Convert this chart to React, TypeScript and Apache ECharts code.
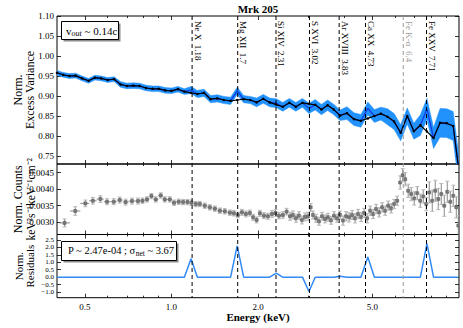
import React, { useEffect, useRef } from 'react';
import * as echarts from 'echarts';

// ---- Top panel: normalised excess variance per energy bin (keV) ----
const binE = [0.400, 0.420, 0.442, 0.464, 0.489, 0.515, 0.542, 0.570, 0.600, 0.632, 0.665, 0.700, 0.737, 0.775, 0.816, 0.859, 0.904, 0.952, 1.001, 1.054, 1.109, 1.170, 1.231, 1.298, 1.368, 1.444, 1.522, 1.606, 1.693, 1.783, 1.879, 1.979, 2.086, 2.197, 2.315, 2.438, 2.571, 2.708, 2.855, 3.008, 3.162, 3.324, 3.493, 3.671, 3.858, 4.078, 4.314, 4.559, 4.819, 5.080, 5.352, 5.643, 5.949, 6.267, 6.608, 6.967, 7.339, 7.737, 8.157, 8.593, 9.060, 9.546, 9.944];
const excessVar = [0.958, 0.953, 0.950, 0.951, 0.944, 0.938, 0.946, 0.944, 0.940, 0.942, 0.929, 0.925, 0.926, 0.925, 0.920, 0.918, 0.918, 0.914, 0.913, 0.917, 0.911, 0.915, 0.905, 0.908, 0.892, 0.894, 0.890, 0.888, 0.913, 0.892, 0.890, 0.884, 0.893, 0.884, 0.882, 0.873, 0.883, 0.873, 0.883, 0.869, 0.878, 0.866, 0.877, 0.866, 0.852, 0.857, 0.842, 0.838, 0.869, 0.850, 0.856, 0.848, 0.836, 0.808, 0.850, 0.812, 0.827, 0.868, 0.795, 0.833, 0.832, 0.825, 0.725];
const continuum = [0.958, 0.953, 0.950, 0.951, 0.944, 0.938, 0.946, 0.944, 0.940, 0.942, 0.929, 0.925, 0.926, 0.925, 0.920, 0.918, 0.918, 0.914, 0.913, 0.917, 0.911, 0.908, 0.905, 0.908, 0.892, 0.894, 0.890, 0.888, 0.890, 0.892, 0.890, 0.884, 0.893, 0.884, 0.8785, 0.873, 0.883, 0.873, 0.883, 0.8805, 0.878, 0.866, 0.877, 0.866, 0.851, 0.857, 0.842, 0.838, 0.844, 0.850, 0.856, 0.848, 0.836, 0.808, 0.850, 0.812, 0.827, 0.811, 0.795, 0.833, 0.832, 0.825, 0.725];
const evErr = [0.006, 0.006, 0.006, 0.006, 0.006, 0.006, 0.006, 0.006, 0.006, 0.006, 0.007, 0.007, 0.007, 0.007, 0.007, 0.007, 0.007, 0.007, 0.007, 0.007, 0.007, 0.009, 0.009, 0.009, 0.009, 0.009, 0.009, 0.009, 0.009, 0.009, 0.009, 0.011, 0.011, 0.011, 0.011, 0.011, 0.011, 0.011, 0.011, 0.013, 0.013, 0.013, 0.013, 0.013, 0.013, 0.016, 0.016, 0.016, 0.016, 0.016, 0.016, 0.020, 0.020, 0.020, 0.020, 0.020, 0.026, 0.026, 0.026, 0.036, 0.036, 0.036, 0.036];

// ---- Bottom panel: normalised residuals at the same bins ----
const residual = [0, 0, 0, 0, 0, 0, 0, 0, 0, 0, 0, 0, 0, 0, 0, 0, 0, 0, 0, 0, 0, 1.24, 0, 0, 0, 0, 0, 0, 2.1, 0, 0, 0, 0, 0, 0.27, 0, 0, 0, 0, -0.96, 0, 0, 0, 0, 0.07, 0, 0, 0, 1.35, 0, 0, 0, 0, 0, 0, 0, 0, 2.25, 0, 0, 0, 0, 0];

// ---- Middle panel: normalised counts spectrum ----
const cntE = [0.425, 0.463, 0.502, 0.533, 0.566, 0.597, 0.630, 0.661, 0.693, 0.729, 0.765, 0.793, 0.822, 0.852, 0.882, 0.918, 0.948, 0.987, 1.021, 1.060, 1.098, 1.137, 1.174,
  1.215, 1.255, 1.306, 1.360, 1.416, 1.474, 1.533, 1.597, 1.649, 1.702, 1.758, 1.815, 1.874, 1.924, 1.978, 2.030, 2.097, 2.165, 2.236, 2.300, 2.365, 2.442, 2.515,
  2.584, 2.647, 2.711, 2.777, 2.844, 2.914, 2.985, 3.050, 3.107, 3.183, 3.261, 3.340, 3.421, 3.504, 3.590, 3.677, 3.767, 3.858, 3.953, 4.049, 4.148, 4.249, 4.352, 4.458, 4.567, 4.677, 4.792, 4.909, 5.028, 5.150, 5.276, 5.405, 5.536, 5.672, 5.809, 5.951, 6.095, 6.244, 6.371, 6.500, 6.658, 6.821, 6.987, 7.157, 7.332, 7.510, 7.693, 7.880, 8.072, 8.268, 8.470, 8.677, 8.888, 9.104, 9.327, 9.552, 9.786, 9.945];
const cntV = [0.00298, 0.00334, 0.00357, 0.00365, 0.00370, 0.00362, 0.00362, 0.00367, 0.00361, 0.00364, 0.00364, 0.00365, 0.00369, 0.00379, 0.00369, 0.00381, 0.00369, 0.00369, 0.00359, 0.00362, 0.00361, 0.00361, 0.00359,
  0.00355, 0.00355, 0.00350, 0.00345, 0.00341, 0.00335, 0.00333, 0.00329, 0.00327, 0.00322, 0.00330, 0.00325, 0.00328, 0.00315, 0.00307, 0.00327, 0.00320, 0.00318, 0.00325, 0.00328, 0.00320, 0.00322, 0.00332,
  0.00318, 0.00322, 0.00312, 0.00320, 0.00307, 0.00316, 0.00318, 0.00345, 0.00322, 0.00312,
  0.00303, 0.00318, 0.00310, 0.00315, 0.00306, 0.00320, 0.00312, 0.00322, 0.00305, 0.00318,
  0.00315, 0.00322, 0.00312, 0.00325, 0.00316, 0.00328, 0.00312, 0.00335, 0.00325, 0.00340,
  0.00330, 0.00345, 0.00335, 0.00350, 0.00342, 0.00355, 0.00365, 0.00420, 0.00442, 0.00430,
  0.00395, 0.00385, 0.00372, 0.00388, 0.00365, 0.00378, 0.00355, 0.00390, 0.00365, 0.00395,
  0.00370, 0.00385, 0.00350, 0.00392, 0.00362, 0.00380, 0.00345, 0.00290];
const cntErr = [0.00012, 0.00013, 0.00010, 0.00010, 0.00010, 0.00009, 0.00009, 0.00009, 0.00009, 0.00009, 0.00009, 0.00008, 0.00008, 0.00008, 0.00008, 0.00008, 0.00008, 0.00008, 0.00008, 0.00008, 0.00008, 0.00008, 0.00008,
  0.00008, 0.00008, 0.00008, 0.00008, 0.00008, 0.00008, 0.00008, 0.00008, 0.00008, 0.00008, 0.00009, 0.00009, 0.00009, 0.00009, 0.00009, 0.00009, 0.00009, 0.00009, 0.0001, 0.0001, 0.0001, 0.0001, 0.0001,
  0.00012, 0.00012, 0.00012, 0.00012, 0.00012, 0.00012, 0.00012, 0.00012, 0.00012, 0.00012, 0.00012, 0.00012, 0.00012, 0.00012, 0.00012, 0.00012, 0.00012, 0.00012,
  0.00014, 0.00014, 0.00014, 0.00014, 0.00014, 0.00014, 0.00014, 0.00014, 0.00014, 0.00014, 0.00014, 0.00014, 0.00014, 0.00014, 0.00014, 0.00014, 0.00014, 0.00014, 0.00014,
  0.0002, 0.0002, 0.0002, 0.0002, 0.0002, 0.0002, 0.0002, 0.0002, 0.0002, 0.0002,
  0.00032, 0.00032, 0.00032, 0.00032, 0.00032, 0.00032, 0.00032, 0.00032, 0.00032, 0.00032, 0.0003];

// ---- Line identifications ----
const lineE = [1.18, 1.7, 2.31, 3.02, 3.83, 4.73, 6.4, 7.71];
const lineLabels = ['Ne X  1.18', 'Mg XII  1.7', 'Si XIV  2.31', 'S XVI  3.02', 'Ar XVIII  3.83', 'Ca XX  4.73', 'Fe K-\u03b1  6.4', 'Fe XXV  7.71'];

// ---- Ticks ----
const xMajor = [0.5, 1.0, 2.0, 5.0];
const xMinor = [0.6, 0.7, 0.8, 0.9, 3, 4, 6, 7, 8, 9];
const evTicks = [0.75, 0.80, 0.85, 0.90, 0.95, 1.00, 1.05, 1.10];
const cntTicks = [0.0030, 0.0035, 0.0040, 0.0045];
const resTicks = [-1.0, -0.5, 0.0, 0.5, 1.0, 1.5, 2.0, 2.5];

const X_MIN = 0.4;
const X_MAX = 10.0;
const EV_RANGE = [0.73, 1.10];
const CNT_RANGE = [0.00263, 0.00476];
const RES_RANGE = [-1.38, 2.87];

const SERIF = '"Liberation Serif", "Times New Roman", Times, serif';
const LEFT = 57;
const RIGHT = 4;
const PANELS = [
  { top: 16, height: 148 },
  { top: 164, height: 70.5 },
  { top: 234.5, height: 63.2 },
];

const lg = (v: number) => Math.log10(v);

function buildOption(): any {
  const grid = PANELS.map((p) => ({
    left: LEFT, right: RIGHT, top: p.top, height: p.height,
    show: true, borderColor: '#000', borderWidth: 1, backgroundColor: 'transparent',
  }));

  const xAxis: any[] = [];
  PANELS.forEach((_, g) => {
    ['bottom', 'top'].forEach((pos) => {
      [true, false].forEach((major) => {
        const showLab = g === 2 && pos === 'bottom' && major;
        xAxis.push({
          type: 'value', gridIndex: g, position: pos, min: lg(X_MIN), max: lg(X_MAX),
          axisLine: { show: false, onZero: false },
          splitLine: { show: false },
          axisTick: {
            show: true, inside: true, length: major ? 4 : 2,
            customValues: (major ? xMajor : xMinor).map(lg),
            lineStyle: { color: '#000', width: 0.8 },
          },
          axisLabel: showLab
            ? {
                show: true, customValues: xMajor.map(lg),
                formatter: (v: number) => Math.pow(10, v).toFixed(1),
                margin: 5, fontSize: 9, fontFamily: SERIF, color: '#000',
              }
            : { show: false },
        });
      });
    });
  });

  const yConf = [
    { range: EV_RANGE, ticks: evTicks, fmt: (v: number) => v.toFixed(2), size: 9, lh: 10 },
    { range: CNT_RANGE, ticks: cntTicks, fmt: (v: number) => v.toFixed(4), size: 9, lh: 10 },
    { range: RES_RANGE, ticks: resTicks, fmt: (v: number) => (v < 0 ? '\u2212' : '') + Math.abs(v).toFixed(1), size: 7, lh: 7 },
  ];
  const yAxis: any[] = [];
  yConf.forEach((c, g) => {
    ['left', 'right'].forEach((pos) => {
      yAxis.push({
        type: 'value', gridIndex: g, position: pos, min: c.range[0], max: c.range[1],
        axisLine: { show: false, onZero: false },
        splitLine: { show: false },
        axisTick: { show: true, inside: true, length: 4, customValues: c.ticks, lineStyle: { color: '#000', width: 0.8 } },
        axisLabel: pos === 'left'
          ? {
              show: true, customValues: c.ticks, formatter: c.fmt, margin: 3,
              fontSize: c.size, lineHeight: c.lh, hideOverlap: false,
              fontFamily: SERIF, color: '#000',
            }
          : { show: false },
      });
    });
  });

  const pts = (e: number[], v: number[]) => e.map((x, i) => [lg(x), v[i]]);

  const cntData = cntE.map((e, i) => {
    const prev = i > 0 ? cntE[i - 1] : e * e / cntE[i + 1];
    const next = i < cntE.length - 1 ? cntE[i + 1] : e * e / cntE[i - 1];
    return [lg(e), cntV[i], lg(Math.sqrt(prev * e)), lg(Math.sqrt(e * next)), cntErr[i]];
  });

  return {
    animation: false,
    backgroundColor: '#fff',
    grid,
    xAxis,
    yAxis,
    series: [
      {
        type: 'custom', xAxisIndex: 0, yAxisIndex: 0, clip: true, silent: true, z: 1,
        data: [[lg(binE[0]), excessVar[0]]],
        renderItem: (_p: any, api: any) => {
          const up = binE.map((e, i) => api.coord([lg(e), excessVar[i] + evErr[i]]));
          const lo = binE.map((e, i) => api.coord([lg(e), excessVar[i] - evErr[i]])).reverse();
          return {
            type: 'polygon',
            shape: { points: up.concat(lo) },
            style: { fill: '#2191fb', stroke: '#2191fb', lineWidth: 0.5 },
          };
        },
      },
      {
        type: 'line', xAxisIndex: 0, yAxisIndex: 0, data: pts(binE, excessVar),
        showSymbol: false, lineStyle: { color: '#1238e6', width: 1.2 }, z: 3, silent: true,
      },
      {
        type: 'line', xAxisIndex: 0, yAxisIndex: 0, data: pts(binE, continuum),
        symbol: 'circle', symbolSize: 2.5, itemStyle: { color: '#000' },
        lineStyle: { color: '#000', width: 1.2 }, z: 4, silent: true,
      },
      {
        type: 'custom', xAxisIndex: 4, yAxisIndex: 2, clip: true, silent: true, z: 3,
        encode: { x: 0, y: 1 },
        data: cntData,
        renderItem: (_p: any, api: any) => {
          const x = +api.value(0), y = +api.value(1), xl = +api.value(2), xh = +api.value(3), er = +api.value(4);
          const c = api.coord([x, y]);
          const pl = api.coord([xl, y]);
          const ph = api.coord([xh, y]);
          const pt = api.coord([x, y + er]);
          const pb = api.coord([x, y - er]);
          const cap = 2;
          const bar = { stroke: '#8a8a8a', lineWidth: 1 };
          const capS = { stroke: '#b8b8b8', lineWidth: 1 };
          return {
            type: 'group',
            children: [
              { type: 'line', shape: { x1: pl[0], y1: c[1], x2: ph[0], y2: c[1] }, style: bar },
              { type: 'line', shape: { x1: c[0], y1: pt[1], x2: c[0], y2: pb[1] }, style: bar },
              { type: 'line', shape: { x1: c[0] - cap, y1: pt[1], x2: c[0] + cap, y2: pt[1] }, style: capS },
              { type: 'line', shape: { x1: c[0] - cap, y1: pb[1], x2: c[0] + cap, y2: pb[1] }, style: capS },
              { type: 'rect', shape: { x: c[0] - 1.5, y: c[1] - 1.5, width: 3, height: 3 }, style: { fill: '#7a7a7a', stroke: '#555', lineWidth: 0.5 } },
            ],
          };
        },
      },
      {
        type: 'line', xAxisIndex: 8, yAxisIndex: 4, data: pts(binE, residual),
        showSymbol: false, lineStyle: { color: '#3089f5', width: 1.5 }, z: 3, silent: true,
      },
    ],
  };
}

function buildGraphics(chart: any): any[] {
  const yTop = PANELS[0].top;
  const yBot = PANELS[2].top + PANELS[2].height;
  const g: any[] = [];
  lineE.forEach((e, i) => {
    const px = chart.convertToPixel({ xAxisIndex: 0 }, lg(e)) as number;
    const col = i === 6 ? '#9a9a9a' : '#000';
    g.push({
      type: 'line', z: 50, silent: true,
      shape: { x1: px, y1: yTop, x2: px, y2: yBot },
      style: { stroke: col, lineWidth: 1, lineDash: [4, 3] },
    });
    g.push({
      type: 'text', z: 51, silent: true, x: px + 1, y: 21, rotation: -Math.PI / 2,
      style: { text: lineLabels[i], fontSize: 9, fontFamily: SERIF, fill: col, align: 'left', verticalAlign: 'bottom' },
    });
  });

  const plotCx = LEFT + (463 - LEFT - RIGHT) / 2;
  g.push({ type: 'text', z: 60, silent: true, x: plotCx, y: 9, style: { text: 'Mrk 205', fontSize: 11, fontWeight: 'bold', fontFamily: SERIF, fill: '#000', align: 'center', verticalAlign: 'middle' } });
  g.push({ type: 'text', z: 60, silent: true, x: plotCx, y: 317, style: { text: 'Energy (keV)', fontSize: 11, fontWeight: 'bold', fontFamily: SERIF, fill: '#000', align: 'center', verticalAlign: 'middle' } });

  const yName = (text: string, x: number, y: number, size: number) => ({
    type: 'text', z: 60, silent: true, x, y, rotation: Math.PI / 2,
    style: { text, fontSize: size, fontFamily: SERIF, fill: '#000', align: 'center', verticalAlign: 'middle' },
  });
  const c0 = PANELS[0].top + PANELS[0].height / 2;
  const c1 = PANELS[1].top + PANELS[1].height / 2;
  const c2 = PANELS[2].top + PANELS[2].height / 2;
  g.push(yName('Norm.', 18, c0, 12));
  g.push(yName('Excess Variance', 30, c0, 12));
  g.push(yName('Norm. Counts', 18, c1, 12));
  g.push(yName('keV\u00b2s\u207b\u00b9keV\u207b\u00b9cm\u207b\u00b2', 31, c1, 11.5));
  g.push(yName('Norm.', 19, c2, 11));
  g.push(yName('Residuals', 30, c2, 11));

  g.push({ type: 'rect', z: 55, silent: true, shape: { x: 63.5, y: 23.5, width: 57, height: 18 }, style: { fill: '#8c8c8c' } });
  g.push({ type: 'rect', z: 56, silent: true, shape: { x: 61.5, y: 21.5, width: 57, height: 18 }, style: { fill: '#fff', stroke: '#000', lineWidth: 1 } });
  g.push({
    type: 'text', z: 57, silent: true, x: 66, y: 30.5,
    style: {
      text: '{n|v}{s|out}{n| ~ 0.14c}', align: 'left', verticalAlign: 'middle',
      rich: {
        n: { fontSize: 11, fontFamily: SERIF, lineHeight: 14, verticalAlign: 'middle', fill: '#000' },
        s: { fontSize: 8, fontFamily: SERIF, fontStyle: 'italic', lineHeight: 8, verticalAlign: 'bottom', fill: '#000' },
      },
    },
  });
  g.push({ type: 'rect', z: 55, silent: true, shape: { x: 63.5, y: 243.5, width: 115, height: 19 }, style: { fill: '#8c8c8c' } });
  g.push({ type: 'rect', z: 56, silent: true, shape: { x: 61.5, y: 241.5, width: 115, height: 19 }, style: { fill: '#fff', stroke: '#000', lineWidth: 1 } });
  g.push({
    type: 'text', z: 57, silent: true, x: 68, y: 250.5,
    style: {
      text: '{n|P ~ 2.47e-04 ; \u03c3}{s|net}{n| ~ 3.67}', align: 'left', verticalAlign: 'middle',
      rich: {
        n: { fontSize: 10.5, fontFamily: SERIF, lineHeight: 14, verticalAlign: 'middle', fill: '#000' },
        s: { fontSize: 7.5, fontFamily: SERIF, lineHeight: 8, verticalAlign: 'bottom', fill: '#000' },
      },
    },
  });
  return g;
}

export default function App() {
  const ref = useRef<HTMLDivElement>(null);
  useEffect(() => {
    if (!ref.current) return;
    const chart = echarts.init(ref.current, null, { renderer: 'svg' });
    chart.setOption(buildOption());
    chart.setOption({ graphic: buildGraphics(chart) });
    return () => chart.dispose();
  }, []);
  return (
    <div
      ref={ref}
      style={{ position: 'fixed', left: 0, top: 0, width: 463, height: 328, background: '#fff' }}
    />
  );
}
